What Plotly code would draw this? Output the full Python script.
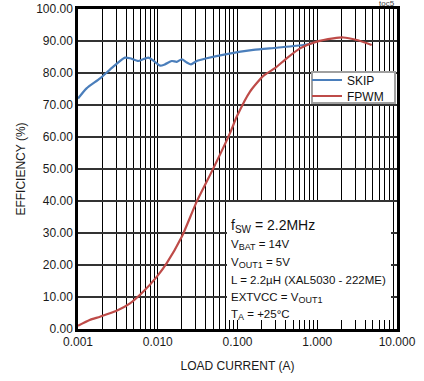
import plotly.graph_objects as go

# Data
skip_x = [0.001, 0.00128, 0.00189, 0.00277, 0.00388, 0.0045, 0.0057, 0.0076, 0.0092, 0.0107,
          0.0123, 0.0150, 0.0173, 0.0200, 0.0231, 0.0261, 0.0308, 0.0411, 0.0732, 0.158,
          0.310, 0.668, 0.85]
skip_y = [72.0, 75.2, 78.3, 82.0, 84.8, 84.6, 83.75, 84.8, 83.5, 82.3,
          82.7, 83.75, 83.5, 84.3, 83.3, 82.7, 83.75, 84.6, 85.9, 87.2,
          87.9, 88.75, 89.3]

fpwm_x = [0.001, 0.0014, 0.00189, 0.00305, 0.00449, 0.0066, 0.0097, 0.0129, 0.0200, 0.0308,
          0.0498, 0.0805, 0.0977, 0.1436, 0.211, 0.295, 0.414, 0.608, 0.984, 1.59,
          2.12, 3.13, 4.82]
fpwm_y = [1.0, 2.8, 3.85, 5.7, 8.0, 11.7, 16.3, 20.5, 28.8, 39.8,
          50.2, 61.2, 66.3, 74.2, 79.1, 81.5, 84.6, 87.7, 89.8, 90.8,
          91.1, 90.3, 88.75]

x_tickvals = [0.001, 0.01, 0.1, 1, 10]
x_ticktext = ["0.001", "0.010", "0.100", "1.000", "10.000"]
y_tickvals = [0, 10, 20, 30, 40, 50, 60, 70, 80, 90, 100]
y_ticktext = ["%.2f" % v for v in y_tickvals]
minor_vals = [m * 10 ** e for e in range(-3, 1) for m in range(2, 10)]

FONT = "Arial, Liberation Sans, sans-serif"

PW, PH = 319.0, 320.0
def px_x(p):
    return (p - 78) / PW
def px_y(p):
    return (329 - p) / PH

fig = go.Figure()
fig.add_trace(go.Scatter(x=skip_x, y=skip_y, mode="lines", name="SKIP", legend="legend",
                         line=dict(color="#4a7ebb", width=2.2, shape="spline", smoothing=0.6)))
fig.add_trace(go.Scatter(x=fpwm_x, y=fpwm_y, mode="lines", name="FPWM", legend="legend2",
                         line=dict(color="#be4b48", width=2.2, shape="spline", smoothing=0.6)))

leg_common = dict(xanchor="left", yanchor="middle", bgcolor="rgba(0,0,0,0)", borderwidth=0,
                  font=dict(size=12, color="#111"), itemwidth=30)
fig.update_layout(
    width=424, height=381,
    margin=dict(l=78, r=27, t=9, b=52, autoexpand=False),
    paper_bgcolor="white", plot_bgcolor="white",
    font=dict(family=FONT, size=12, color="#1a1a1a"),
    showlegend=True,
    legend=dict(x=px_x(307), y=px_y(80), **leg_common),
    legend2=dict(x=px_x(307), y=px_y(96), **leg_common),
)

fig.update_xaxes(
    type="log", range=[-3, 1], automargin=False,
    tickvals=x_tickvals, ticktext=x_ticktext,
    showgrid=True, gridcolor="black", gridwidth=1,
    showline=True, linecolor="black", linewidth=2.5, mirror=True,
    ticks="", tickfont=dict(size=12),
    minor=dict(tickvals=minor_vals, showgrid=True, gridcolor="black", gridwidth=1, ticks=""),
    title=dict(text="LOAD CURRENT (A)", font=dict(size=12), standoff=14),
    zeroline=False,
)
fig.update_yaxes(
    range=[0, 100], automargin=False,
    tickvals=y_tickvals, ticktext=y_ticktext,
    showgrid=True, gridcolor="#333333", gridwidth=1.5,
    showline=True, linecolor="black", linewidth=2.5, mirror=True,
    ticks="", tickfont=dict(size=12),
    title=dict(text="EFFICIENCY (%)", font=dict(size=12), standoff=8),
    zeroline=False,
)

# White condition box covering gridlines (grid stubs remain visible at its edges)
fig.add_shape(type="rect", xref="paper", yref="paper",
              x0=px_x(227), x1=px_x(391), y0=px_y(320), y1=px_y(202),
              fillcolor="white", line=dict(width=0), layer="above")
# Legend frame
fig.add_shape(type="rect", xref="paper", yref="paper",
              x0=px_x(312), x1=px_x(395), y0=px_y(103), y1=px_y(72),
              fillcolor="white", line=dict(width=2, color="#a0a0a0"), layer="above")

def sub(t):
    return "<sub><span style='font-size:9px'>%s</span></sub>" % t

lines = [
    ("f" + "<sub><span style='font-size:10px'>SW</span></sub>" + " = 2.2MHz", 226, 14),
    ("V" + sub("BAT") + " = 14V", 245, 11.5),
    ("V" + sub("OUT1") + " = 5V", 263, 11.5),
    ("L = 2.2µH (XAL5030 - 222ME)", 280, 11.5),
    ("EXTVCC = V" + sub("OUT1"), 298, 11.5),
    ("T" + sub("A") + " = +25°C", 315, 11.5),
]
for txt, ypx, sz in lines:
    fig.add_annotation(xref="paper", yref="paper", x=px_x(229), y=px_y(ypx),
                       text=txt, showarrow=False, xanchor="left", yanchor="middle",
                       font=dict(size=sz, color="#111", family=FONT))

fig.add_annotation(xref="paper", yref="paper", x=1.0, y=1.0, yshift=-1,
                   text="toc5", showarrow=False, xanchor="right", yanchor="bottom",
                   font=dict(size=8, color="#444", family=FONT))

fig.write_html("out.html", config={"displayModeBar": False},
               post_script="document.body.style.margin='0px';")
